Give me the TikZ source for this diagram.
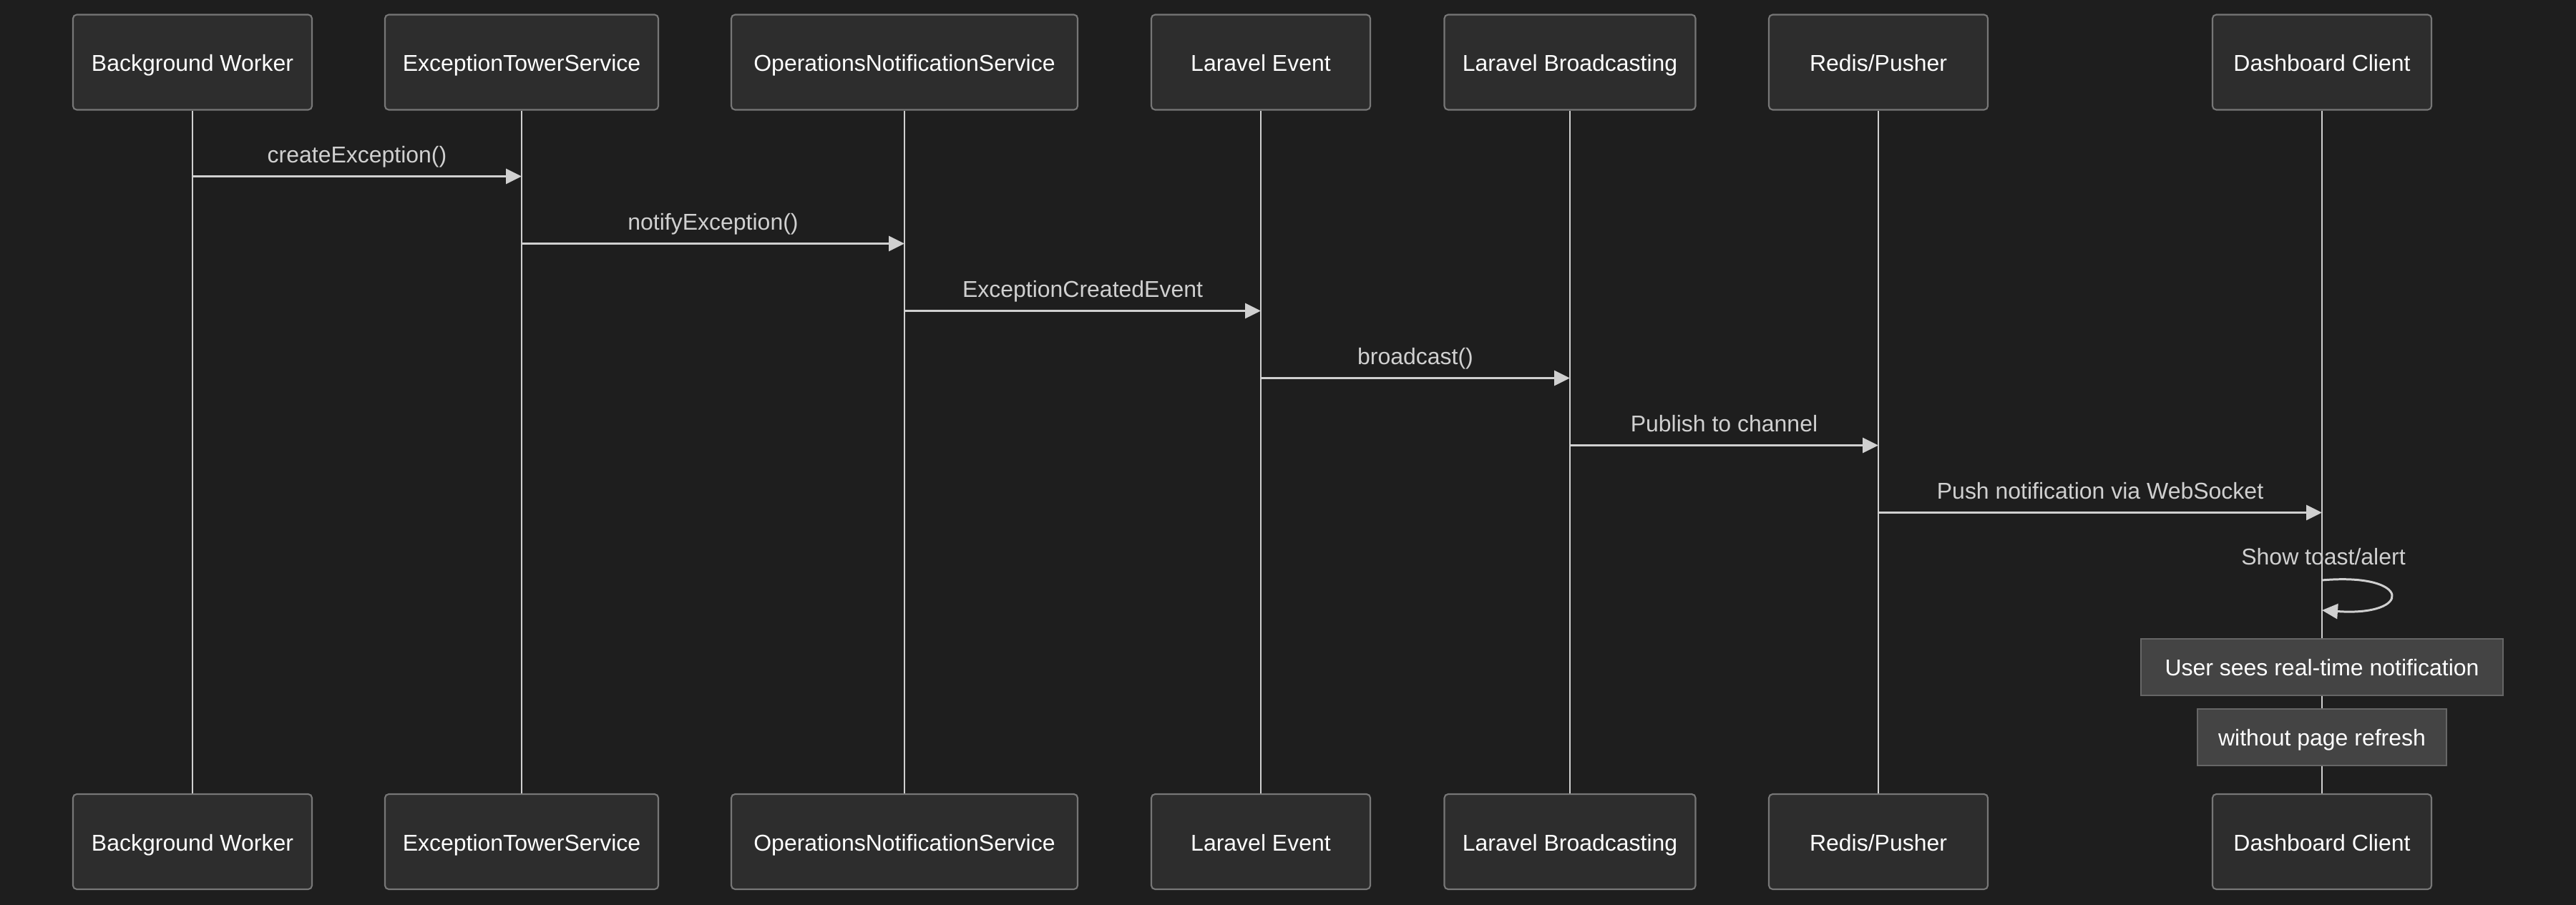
\documentclass[tikz,border=0pt]{standalone}
\usepackage{fontspec}
\setmainfont{Liberation Sans}
\usetikzlibrary{arrows.meta}
\usetikzlibrary{positioning}

\definecolor{bgcol}{HTML}{1E1E1E}
\definecolor{actfill}{HTML}{2D2D2D}
\definecolor{actline}{HTML}{777777}
\definecolor{wire}{HTML}{D0D0D0}
\definecolor{notefill}{HTML}{444444}
\definecolor{noteline}{HTML}{666666}

\begin{document}
\begin{tikzpicture}[
      actor/.style={draw=actline,fill=actfill,rounded corners=1.5pt,line width=0.6pt,
        minimum height=1.33cm,text=white,text height=9.2pt,text depth=1.9pt,
        font=\fontsize{9.1}{11}\selectfont},
      life/.style={draw=wire,line width=0.8pt},
      msg/.style={draw=wire,line width=0.85pt,-{Triangle[length=0.22cm,width=0.21cm]}},
      mlabel/.style={midway,yshift=0.31cm,text=wire,text height=8.6pt,text depth=1.9pt,
        font=\fontsize{9.1}{11}\selectfont},
      note/.style={draw=noteline,fill=notefill,line width=0.6pt,minimum height=0.79cm,
        text=white,text height=8.6pt,text depth=1.9pt,font=\fontsize{9.1}{11}\selectfont},
    ]
        \fill[bgcol] (0,0) rectangle (36,-12.65);
        \useasboundingbox (0,0) rectangle (36,-12.65);

        % participants, top row
        \node[actor,minimum width=3.34cm] (bwTop) at (2.69,-0.87) {Background Worker};
        \node[actor,minimum width=3.82cm] (etsTop) at (7.29,-0.87) {ExceptionTowerService};
        \node[actor,minimum width=4.84cm] (onsTop) at (12.64,-0.87) {OperationsNotificationService};
        \node[actor,minimum width=3.06cm] (leTop) at (17.62,-0.87) {Laravel Event};
        \node[actor,minimum width=3.51cm] (lbTop) at (21.94,-0.87) {Laravel Broadcasting};
        \node[actor,minimum width=3.06cm] (rpTop) at (26.25,-0.87) {Redis/Pusher};
        \node[actor,minimum width=3.06cm] (dcTop) at (32.45,-0.87) {Dashboard Client};

        % participants, bottom row
        \node[actor,minimum width=3.34cm] (bwBot) at (2.69,-11.765) {Background Worker};
        \node[actor,minimum width=3.82cm] (etsBot) at (7.29,-11.765) {ExceptionTowerService};
        \node[actor,minimum width=4.84cm] (onsBot) at (12.64,-11.765) {OperationsNotificationService};
        \node[actor,minimum width=3.06cm] (leBot) at (17.62,-11.765) {Laravel Event};
        \node[actor,minimum width=3.51cm] (lbBot) at (21.94,-11.765) {Laravel Broadcasting};
        \node[actor,minimum width=3.06cm] (rpBot) at (26.25,-11.765) {Redis/Pusher};
        \node[actor,minimum width=3.06cm] (dcBot) at (32.45,-11.765) {Dashboard Client};

        % lifelines
        \draw[life] (bwTop.south) -- (bwBot.north);
        \draw[life] (etsTop.south) -- (etsBot.north);
        \draw[life] (onsTop.south) -- (onsBot.north);
        \draw[life] (leTop.south) -- (leBot.north);
        \draw[life] (lbTop.south) -- (lbBot.north);
        \draw[life] (rpTop.south) -- (rpBot.north);
        \draw[life] (dcTop.south) -- (dcBot.north);

        % messages
        \draw[msg] (bwTop.south |- 0,-2.465) -- (etsTop.south |- 0,-2.465)
            node[mlabel] {createException()};
        \draw[msg] (etsTop.south |- 0,-3.405) -- (onsTop.south |- 0,-3.405)
            node[mlabel] {notifyException()};
        \draw[msg] (onsTop.south |- 0,-4.345) -- (leTop.south |- 0,-4.345)
            node[mlabel] {ExceptionCreatedEvent};
        \draw[msg] (leTop.south |- 0,-5.285) -- (lbTop.south |- 0,-5.285)
            node[mlabel] {broadcast()};
        \draw[msg] (lbTop.south |- 0,-6.225) -- (rpTop.south |- 0,-6.225)
            node[mlabel] {Publish to channel};
        \draw[msg] (rpTop.south |- 0,-7.165) -- (dcTop.south |- 0,-7.165)
            node[mlabel] {Push notification via WebSocket};

        % self call
        \node[text=wire,text height=8.6pt,text depth=1.9pt,font=\fontsize{9.1}{11}\selectfont]
            (toast) at (32.47,-7.78) {Show toast/alert};
        \draw[msg] (dcTop.south |- 0,-8.11) .. controls (33.72,-8.0) and (33.72,-8.62) .. (dcTop.south |- 0,-8.53);

        % notes
        \node[note,minimum width=5.06cm] (noteA) at (32.45,-9.325) {User sees real-time notification};
        \node[note,minimum width=3.48cm] (noteB) at (32.45,-10.305) {without page refresh};
    \end{tikzpicture}
\end{document}
